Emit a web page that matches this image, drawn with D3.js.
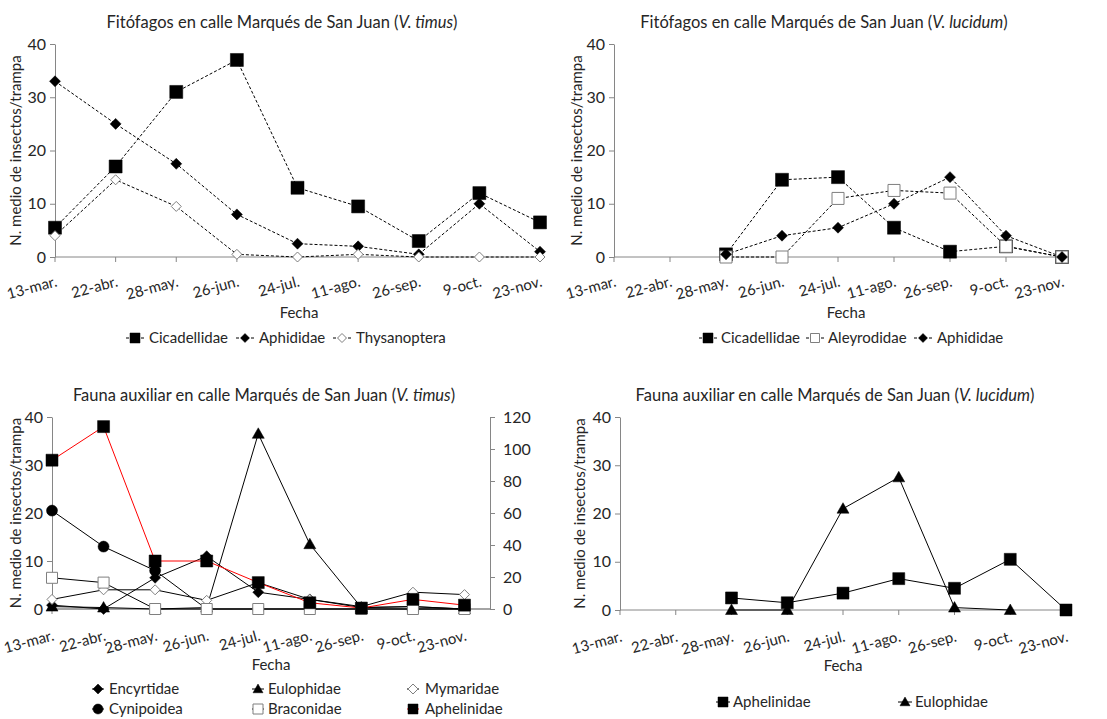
<!DOCTYPE html>
<html><head><meta charset="utf-8">
<script src="https://cdn.jsdelivr.net/npm/d3@7"></script>
<style>
body{margin:0;background:#fff}
svg{display:block}
text{font-family:Lato,"Open Sans",sans-serif;fill:#262626}
</style>
</head><body><svg id="c" width="1107" height="719"></svg>
<script>
// ---- data ----
const categories = ["13-mar.","22-abr.","28-may.","26-jun.","24-jul.","11-ago.","26-sep.","9-oct.","23-nov."];
const yTicks = [0,10,20,30,40];
const y2Ticks = [0,20,40,60,80,100,120];

// Fitófagos V. timus
const tlCicadellidae = [5.5,17,31,37,13,9.5,3,12,6.5];
const tlAphididae    = [33,25,17.5,8,2.5,2,0.5,10,1];
const tlThysanoptera = [4,14.5,9.5,0.5,0,0.5,0,0,0];
// Fitófagos V. lucidum
const trCicadellidae = [null,null,0.5,14.5,15,5.5,1,2,0];
const trAleyrodidae  = [null,null,0,0,11,12.5,12,2,0];
const trAphididae    = [null,null,0.5,4,5.5,10,15,4,0];
// Fauna auxiliar V. timus
const blEncyrtidae   = [0.8,0,6.5,11,3.5,2,0.3,0.5,0];
const blEulophidae   = [0.5,0.3,0,0.3,36.5,13.5,0.3,0.5,0];
const blMymaridae    = [2,4,4,1.8,5.5,2,0.5,3.5,3];
const blCynipoidea   = [20.5,13,8,0,0,0,0,0,0];
const blBraconidae   = [6.5,5.5,0,0,0,0,0,0,0];
const blAphelinidae  = [31,38,10,10,5.5,1.3,0.2,2,0.8];
// Fauna auxiliar V. lucidum
const brAphelinidae  = [null,null,2.5,1.5,3.5,6.5,4.5,10.5,0];
const brEulophidae   = [null,null,0,0,21,27.5,0.5,0,null];

// ---- drawing ----
const svg = d3.select('#c');
const GRAY = '#868686';
const FONT = 'Lato,"Open Sans",sans-serif';

function mpath(type, s){
  const h = s/2;
  switch(type){
    case 'square': return `M${-h},${-h}H${h}V${h}H${-h}Z`;
    case 'diamond': return `M0,${-h}L${h},0L0,${h}L${-h},0Z`;
    case 'triangle': return `M0,${-h}L${h},${h*0.75}L${-h},${h*0.75}Z`;
    case 'circle': return d3.symbol(d3.symbolCircle, Math.PI*h*h)();
  }
}

function marker(g, s, x, y){
  return g.append('path').attr('d', mpath(s.marker, s.size))
    .attr('transform', `translate(${x},${y})`)
    .attr('fill', s.open ? '#fff' : '#000')
    .attr('stroke', s.open ? '#7f7f7f' : '#000')
    .attr('stroke-width', s.open ? 1 : 0.5);
}

function panel(cfg){
  const g = svg.append('g');
  const x = d3.scalePoint().domain(categories).range([cfg.x0, cfg.x1]);
  const y = d3.scaleLinear().domain([0,40]).range([cfg.yb, cfg.yt]);
  const axEnd = cfg.axisEnd || cfg.x1;

  // title
  const t = g.append('text').attr('x', cfg.titleX).attr('y', cfg.titleY)
    .attr('text-anchor','middle').attr('font-size', 16.5);
  t.append('tspan').text(cfg.title[0]);
  t.append('tspan').attr('font-style','italic').text(cfg.title[1]);
  t.append('tspan').text(')');

  // y axis
  const ya = g.append('g').attr('transform', `translate(${cfg.x0},0)`)
    .call(d3.axisLeft(y).tickValues(yTicks).tickSize(5).tickPadding(4).tickSizeOuter(0));
  ya.select('.domain').attr('stroke', GRAY);
  ya.selectAll('.tick line').attr('stroke', GRAY);
  ya.selectAll('.tick text').attr('font-size', 16).attr('font-family', FONT).attr('fill','#262626');

  if (cfg.right){
    const y2 = d3.scaleLinear().domain([0,120]).range([cfg.yb, cfg.yt]);
    const ra = g.append('g').attr('transform', `translate(${axEnd},0)`)
      .call(d3.axisRight(y2).tickValues(y2Ticks).tickSize(5).tickPadding(8).tickSizeOuter(0));
    ra.select('.domain').attr('stroke', GRAY);
    ra.selectAll('.tick line').attr('stroke', GRAY);
    ra.selectAll('.tick text').attr('font-size', 16).attr('font-family', FONT).attr('fill','#262626');
  }

  // x axis
  g.append('line').attr('x1', cfg.x0).attr('x2', axEnd).attr('y1', cfg.yb).attr('y2', cfg.yb)
    .attr('stroke', GRAY).attr('stroke-width', cfg.xw || 1);
  categories.forEach(c => {
    g.append('line').attr('x1', x(c)).attr('x2', x(c)).attr('y1', cfg.yb).attr('y2', cfg.yb+5).attr('stroke', GRAY);
    g.append('text').attr('transform', `translate(${x(c)+3},${cfg.yb+cfg.labOff}) rotate(-15)`)
      .attr('text-anchor','end').attr('font-size', 15).text(c);
  });

  // axis titles
  g.append('text').attr('x', cfg.fechaX).attr('y', cfg.yb+61).attr('text-anchor','middle')
    .attr('font-size', 15).text('Fecha');
  g.append('text').attr('transform', `translate(${cfg.ylabX},${(cfg.yb+cfg.yt)/2}) rotate(-90)`)
    .attr('text-anchor','middle').attr('font-size', 15).text('N. medio de insectos/trampa');

  // series
  cfg.series.forEach(s => {
    const pts = s.values.map((v,i) => ({c: categories[i], v}));
    const line = d3.line().defined(d => d.v !== null).x(d => x(d.c)).y(d => y(d.v));
    g.append('path').datum(pts).attr('d', line).attr('fill','none')
      .attr('stroke', s.color || '#000').attr('stroke-width', 1)
      .attr('stroke-dasharray', cfg.dash ? '3,2' : null);
  });
  cfg.series.forEach(s => {
    s.values.forEach((v,i) => { if (v !== null) marker(g, s, x(categories[i]), y(v)); });
  });

  // legend
  cfg.legend.forEach(l => {
    const s = cfg.series.find(d => d.name === l.name);
    g.append('line').attr('x1', l.x-cfg.legLine).attr('x2', l.x+cfg.legLine).attr('y1', l.y).attr('y2', l.y)
      .attr('stroke', s.color || '#000').attr('stroke-dasharray', cfg.dash ? '3,2' : null);
    marker(g, Object.assign({}, s, {size: s.legSize}), l.x, l.y);
    g.append('text').attr('x', l.x+l.gap).attr('y', l.y).attr('dy','0.35em')
      .attr('font-size', 15).text(s.name);
  });
}

panel({
  title: ['Fitófagos en calle Marqués de San Juan (', 'V. timus'],
  titleX: 282, titleY: 28,
  x0: 55, x1: 540, yb: 257, yt: 44, dash: true, labOff: 29, legLine: 9,
  fechaX: 299, ylabX: 21,
  series: [
    {name:'Cicadellidae', values: tlCicadellidae, marker:'square', size:13, legSize:10},
    {name:'Aphididae', values: tlAphididae, marker:'diamond', size:11, legSize:9},
    {name:'Thysanoptera', values: tlThysanoptera, marker:'diamond', size:10, open:true, legSize:9}
  ],
  legend: [
    {name:'Cicadellidae', x:135, y:338, gap:14},
    {name:'Aphididae', x:245, y:338, gap:14},
    {name:'Thysanoptera', x:342, y:338, gap:14}
  ]
});

panel({
  title: ['Fitófagos en calle Marqués de San Juan (', 'V. lucidum'],
  titleX: 824, titleY: 28,
  x0: 614, x1: 1062, yb: 257, yt: 44, dash: true, labOff: 29, legLine: 9,
  fechaX: 846, ylabX: 582,
  series: [
    {name:'Cicadellidae', values: trCicadellidae, marker:'square', size:13, legSize:10},
    {name:'Aleyrodidae', values: trAleyrodidae, marker:'square', size:12, open:true, legSize:9},
    {name:'Aphididae', values: trAphididae, marker:'diamond', size:11, legSize:9}
  ],
  legend: [
    {name:'Cicadellidae', x:708, y:338, gap:13},
    {name:'Aleyrodidae', x:815, y:338, gap:13},
    {name:'Aphididae', x:923, y:338, gap:14}
  ]
});

panel({
  title: ['Fauna auxiliar en calle Marqués de San Juan (', 'V. timus'],
  titleX: 264, titleY: 401,
  x0: 52, x1: 464.5, axisEnd: 490, yb: 609, yt: 417, dash: false, right: true, xw: 1.5, labOff: 31, legLine: 6,
  fechaX: 271, ylabX: 21,
  series: [
    {name:'Encyrtidae', values: blEncyrtidae, marker:'diamond', size:11, legSize:10},
    {name:'Eulophidae', values: blEulophidae, marker:'triangle', size:12, legSize:10},
    {name:'Mymaridae', values: blMymaridae, marker:'diamond', size:10, open:true, legSize:10},
    {name:'Cynipoidea', values: blCynipoidea, marker:'circle', size:11, legSize:10},
    {name:'Braconidae', values: blBraconidae, marker:'square', size:11, open:true, legSize:10},
    {name:'Aphelinidae', values: blAphelinidae, marker:'square', size:12, color:'#ff0000', legSize:10}
  ],
  legend: [
    {name:'Encyrtidae', x:98, y:689, gap:11},
    {name:'Eulophidae', x:258, y:689, gap:10},
    {name:'Mymaridae', x:413, y:689, gap:12},
    {name:'Cynipoidea', x:98, y:709, gap:11},
    {name:'Braconidae', x:258, y:709, gap:10},
    {name:'Aphelinidae', x:413, y:709, gap:12}
  ]
});

panel({
  title: ['Fauna auxiliar en calle Marqués de San Juan (', 'V. lucidum'],
  titleX: 835, titleY: 401,
  x0: 620, x1: 1066, yb: 610, yt: 417, dash: false, labOff: 31, legLine: 7,
  fechaX: 843, ylabX: 585,
  series: [
    {name:'Aphelinidae', values: brAphelinidae, marker:'square', size:12, legSize:10},
    {name:'Eulophidae', values: brEulophidae, marker:'triangle', size:12, legSize:10}
  ],
  legend: [
    {name:'Aphelinidae', x:723, y:702, gap:10},
    {name:'Eulophidae', x:905, y:702, gap:10}
  ]
});
</script>
</body></html>
